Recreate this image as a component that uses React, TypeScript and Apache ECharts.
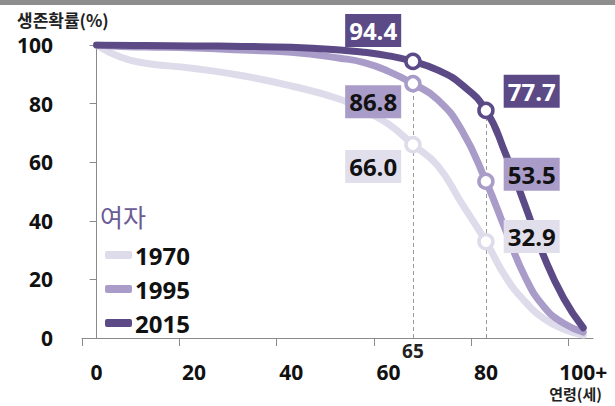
import React, { useEffect, useRef } from "react";
import * as echarts from "echarts";

// Age (x) and survival probability (%)
const ages = [0, 5, 10, 20, 30, 40, 50, 55, 60, 65, 70, 75, 80, 84, 88, 92, 96, 100];
const v1970 = [100, 95.8, 93.8, 92, 89.5, 86, 81.5, 77.5, 73, 66.0, 59, 46, 32.9, 21, 12.5, 6.5, 3, 1];
const v1995 = [100, 99.5, 99.3, 99, 98.3, 97.5, 95.5, 94, 91, 86.8, 81.5, 71, 53.5, 37, 21, 10.5, 5, 2];
const v2015 = [100, 99.9, 99.8, 99.7, 99.5, 99.2, 98.3, 97.5, 96.3, 94.4, 91.5, 86.5, 77.7, 63, 45.5, 27.5, 13.5, 3.5];
const years = ["1970", "1995", "2015"];
const markerAges = [65, 80];
const xLabelValues = [0, 20, 40, 60, 80, 100];
const xTickValues = [-3, 17, 37, 57, 77, 97];

const colors = ["#dedbea", "#a99cc8", "#5c4a86"];
const boxColors = ["#e2dfec", "#a99cc8", "#5b4a86"];
const boxText = ["#111", "#111", "#fff"];

const NUM_FONT = "'Open Sans', 'Liberation Sans', sans-serif";
const KR_FONT = "'Noto Sans CJK KR', 'Noto Sans', sans-serif";

export default function App() {
  const ref = useRef<HTMLDivElement>(null);
  useEffect(() => {
    if (!ref.current) return;
    const chart = echarts.init(ref.current, undefined, { renderer: "svg" });
    const all = [v1970, v1995, v2015];
    const labelOffsets = [
      [[0, 22], [0, -5]],
      [[0, 18], [0, -7]],
      [[0, -31], [0, -19]],
    ];
    const lineSeries = all.map((vals, i) => ({
      name: years[i],
      type: "line",
      data: ages.map((a, k) => [a, vals[k]]),
      smooth: 0.5,
      showSymbol: false,
      symbol: "none",
      z: 2 + i,
      lineStyle: { color: colors[i], width: 7, cap: "round", join: "round" },
      itemStyle: { color: colors[i] },
      emphasis: { disabled: true },
      markLine:
        i === 0
          ? {
              silent: true,
              symbol: "none",
              lineStyle: { color: "#9a9a9a", type: [4, 3], width: 1 },
              data: [
                [
                  {
                    coord: [markerAges[0], 0],
                    label: {
                      show: true,
                      position: "start",
                      distance: 3,
                      formatter: String(markerAges[0]),
                      fontSize: 19,
                      fontWeight: "bold",
                      fontFamily: NUM_FONT,
                      color: "#222",
                    },
                  },
                  { coord: [markerAges[0], v1995[ages.indexOf(markerAges[0])]] },
                ],
                [
                  { coord: [markerAges[1], 0], label: { show: false } },
                  { coord: [markerAges[1], v2015[ages.indexOf(markerAges[1])]] },
                ],
              ],
              z: 1,
            }
          : undefined,
    }));
    const markerSeries = all.map((vals, i) => ({
      name: years[i] + "m",
      type: "scatter",
      symbol: "circle",
      symbolSize: 14,
      z: 10,
      itemStyle: { color: "#fff", borderColor: colors[i], borderWidth: 3.5, opacity: 1 },
      emphasis: { disabled: true },
      data: markerAges.map((a, m) => ({
        value: [a, vals[ages.indexOf(a)]],
        label: {
          show: true,
          position: m === 0 ? "left" : "right",
          distance: m === 0 ? 3 : 9,
          offset: labelOffsets[i][m],
          formatter: (p: any) => p.value[1].toFixed(1),
          backgroundColor: boxColors[i],
          color: boxText[i],
          fontSize: 24,
          fontWeight: "bold",
          fontFamily: NUM_FONT,
          lineHeight: 25,
          padding: [4, 4, 4, 4],
        },
      })),
    }));

    chart.setOption({
      animation: false,
      grid: { left: 82, right: 22, top: 45, bottom: 68, containLabel: false },
      xAxis: {
        type: "value",
        min: -3,
        max: 102,
        axisLine: { show: true, lineStyle: { color: "#8a8a8a", width: 1 } },
        axisTick: {
          show: true,
          customValues: xTickValues,
          length: 8,
          lineStyle: { color: "#8a8a8a" },
        },
        axisLabel: {
          customValues: xLabelValues,
          margin: 23,
          fontSize: 21,
          fontWeight: "bold",
          fontFamily: NUM_FONT,
          color: "#111",
          formatter: (v: number) => (v === 100 ? "100+" : String(v)),
        },
        splitLine: { show: false },
      },
      yAxis: {
        type: "value",
        min: 0,
        max: 100,
        interval: 20,
        axisLine: { show: true, lineStyle: { color: "#8a8a8a", width: 1 } },
        axisTick: { show: true, length: 7, lineStyle: { color: "#8a8a8a" } },
        axisLabel: {
          margin: 29,
          fontSize: 21,
          fontWeight: "bold",
          fontFamily: NUM_FONT,
          color: "#111",
        },
        splitLine: { show: false },
      },
      legend: {
        data: years,
        orient: "vertical",
        left: 100,
        top: 238,
        icon: "roundRect",
        itemWidth: 27,
        itemHeight: 8,
        itemGap: 10,
        selectedMode: false,
        textStyle: { fontSize: 24, fontWeight: "bold", fontFamily: NUM_FONT, color: "#111", padding: [0, 0, 0, -2] },
      },
      graphic: [
        { type: "rect", left: 0, top: 0, shape: { width: 615, height: 5 }, style: { fill: "#8e8e8e" } },
        {
          type: "text",
          left: 17,
          top: 11,
          style: { text: "생존확률(%)", fontSize: 17, fontWeight: "bold", fontFamily: KR_FONT, fill: "#222" },
        },
        {
          type: "text",
          left: 100,
          top: 203,
          style: { text: "여자", fontSize: 25, fontFamily: KR_FONT, fill: "#6b5b96" },
        },
        {
          type: "text",
          right: 13,
          top: 386,
          style: { text: "연령(세)", fontSize: 15, fontWeight: "bold", fontFamily: KR_FONT, fill: "#222" },
        },
      ],
      series: [...lineSeries, ...markerSeries],
    });
    return () => chart.dispose();
  }, []);
  return (
    <div
      ref={ref}
      style={{ position: "fixed", left: 0, top: 0, width: 615, height: 406, background: "#fff" }}
    />
  );
}
